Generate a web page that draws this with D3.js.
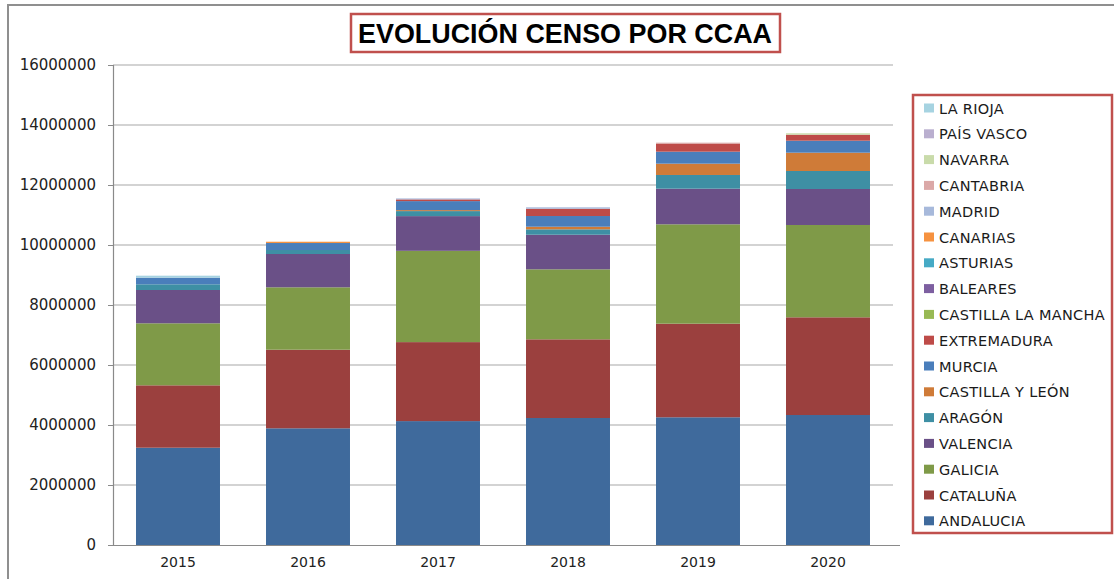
<!DOCTYPE html>
<html>
<head>
<meta charset="utf-8">
<script src="https://cdn.jsdelivr.net/npm/d3@7/dist/d3.min.js"></script>
<style>
  html, body { margin: 0; padding: 0; background: #fff; }
  svg { display: block; }
</style>
</head>
<body>
<svg id="chart" width="1114" height="579"></svg>
<script>
// ---------- DATA ----------
const years = ["2015", "2016", "2017", "2018", "2019", "2020"];
const seriesNames = ["ANDALUCIA", "CATALUÑA", "GALICIA", "VALENCIA", "ARAGÓN", "CASTILLA Y LEÓN",
  "MURCIA", "EXTREMADURA", "CASTILLA LA MANCHA", "BALEARES", "ASTURIAS", "CANARIAS",
  "MADRID", "CANTABRIA", "NAVARRA", "PAÍS VASCO", "LA RIOJA"];
const seriesColors = ["#3f6a9c", "#9b403e", "#7f9a48", "#6a5087", "#3e8fa4", "#cf7b38",
  "#4a7ebb", "#be4b48", "#98b954", "#7d5fa0", "#46aac5", "#f69240",
  "#a7b9db", "#dba8a7", "#c9dbaa", "#baafcf", "#a6d3e1"];
const yTicks = [0, 2000000, 4000000, 6000000, 8000000, 10000000, 12000000, 14000000, 16000000];

const andalucia   = [3243000, 3890000, 4130000, 4233000, 4257000, 4333000];
const cataluna    = [2080000, 2620000, 2633000, 2623000, 3120000, 3257000];
const galicia     = [2067000, 2080000, 3043000, 2333000, 3313000, 3077000];
const valencia    = [1110000, 1110000, 1157000, 1153000, 1187000, 1200000];
const aragon      = [190000, 133000, 167000, 180000, 457000, 600000];
const castillaLeon= [0, 0, 33000, 87000, 377000, 610000];
const murcia      = [220000, 233000, 300000, 357000, 400000, 400000];
const extremadura = [0, 0, 57000, 243000, 257000, 200000];
const castillaLaMancha = [0, 0, 0, 0, 0, 0];
const baleares    = [0, 0, 0, 0, 0, 0];
const asturias    = [0, 0, 0, 0, 0, 0];
const canarias    = [0, 43000, 0, 0, 0, 0];
const madrid      = [0, 0, 33000, 47000, 0, 0];
const cantabria   = [0, 0, 0, 0, 43000, 0];
const navarra     = [0, 0, 0, 0, 0, 47000];
const paisVasco   = [0, 0, 0, 0, 0, 0];
const laRioja     = [67000, 0, 0, 0, 0, 0];

const seriesValues = [andalucia, cataluna, galicia, valencia, aragon, castillaLeon, murcia,
  extremadura, castillaLaMancha, baleares, asturias, canarias, madrid, cantabria, navarra,
  paisVasco, laRioja];

// table for d3.stack
const table = years.map((y, i) => {
  const row = { year: y };
  seriesNames.forEach((n, s) => { row[n] = seriesValues[s][i]; });
  return row;
});

// ---------- LAYOUT ----------
const svg = d3.select("#chart");
const plotLeft = 113, plotRight = 893, plotTop = 65, plotBottom = 545;

// outer frame
svg.append("path")
  .attr("d", `M8,1200 L8,5 L1200,5`)
  .attr("fill", "none").attr("stroke", "#8f8f8f").attr("stroke-width", 2);

const x = d3.scaleBand().domain(years).range([plotLeft, plotRight])
  .paddingInner(0.354).paddingOuter(0.177);
const y = d3.scaleLinear().domain([0, 16000000]).range([plotBottom, plotTop]);

// gridlines
svg.append("g").selectAll("line").data(yTicks.filter(d => d > 0)).join("line")
  .attr("x1", plotLeft).attr("x2", plotRight)
  .attr("y1", d => y(d)).attr("y2", d => y(d))
  .attr("stroke", "#c4c4c4").attr("stroke-width", 1.5);

// bars
const stack = d3.stack().keys(seriesNames);
const layers = stack(table);
svg.append("g").selectAll("g").data(layers).join("g")
  .attr("fill", (d, i) => seriesColors[i])
  .selectAll("rect").data(d => d).join("rect")
  .attr("x", d => x(d.data.year))
  .attr("width", x.bandwidth())
  .attr("y", d => y(d[1]))
  .attr("height", d => Math.max(0, y(d[0]) - y(d[1])));

// y axis
const yAxis = d3.axisLeft(y).tickValues(yTicks).tickFormat(d3.format("d")).tickSize(5).tickPadding(12);
const gy = svg.append("g").attr("transform", `translate(${plotLeft},0)`).call(yAxis);
gy.select(".domain").attr("stroke", "#8a8a8a").attr("stroke-width", 1.2);
gy.selectAll(".tick line").attr("stroke", "#8a8a8a");
gy.selectAll(".tick text").attr("font-family", "DejaVu Sans, sans-serif")
  .attr("font-size", 15).attr("fill", "#222");

// x axis
const xAxis = d3.axisBottom(x).tickSize(0).tickPadding(12);
const gx = svg.append("g").attr("transform", `translate(0,${plotBottom})`).call(xAxis);
gx.select(".domain").attr("stroke", "#8a8a8a").attr("stroke-width", 1.2)
  .attr("d", `M${plotLeft - 5},0.5H${plotRight + 7}`);
gx.selectAll(".tick text").attr("font-family", "DejaVu Sans, sans-serif")
  .attr("font-size", 14).attr("fill", "#222");

// title
svg.append("rect").attr("x", 351).attr("y", 14).attr("width", 429).attr("height", 38)
  .attr("fill", "#fff").attr("stroke", "#c0504d").attr("stroke-width", 2.5);
svg.append("text").attr("x", 565).attr("y", 43).attr("text-anchor", "middle")
  .attr("font-family", "Liberation Sans, Arial, sans-serif").attr("font-weight", "bold")
  .attr("font-size", 27).attr("fill", "#000")
  .attr("textLength", 414).attr("lengthAdjust", "spacingAndGlyphs")
  .text("EVOLUCIÓN CENSO POR CCAA");

// legend
svg.append("rect").attr("x", 913).attr("y", 95).attr("width", 199).attr("height", 438)
  .attr("fill", "#fff").attr("stroke", "#c0504d").attr("stroke-width", 2.5);
const legendOrder = seriesNames.map((n, i) => i).reverse();
const leg = svg.append("g").selectAll("g").data(legendOrder).join("g")
  .attr("transform", (d, k) => `translate(924,${108 + k * 25.8})`);
leg.append("rect").attr("x", 0).attr("y", -4.5).attr("width", 10).attr("height", 9)
  .attr("fill", d => seriesColors[d]);
leg.append("text").attr("x", 15).attr("y", 5.5)
  .attr("font-family", "DejaVu Sans, sans-serif").attr("font-size", 14.5)
  .attr("fill", "#1a1a1a").attr("letter-spacing", 0.3)
  .text(d => seriesNames[d]);
</script>
</body>
</html>
